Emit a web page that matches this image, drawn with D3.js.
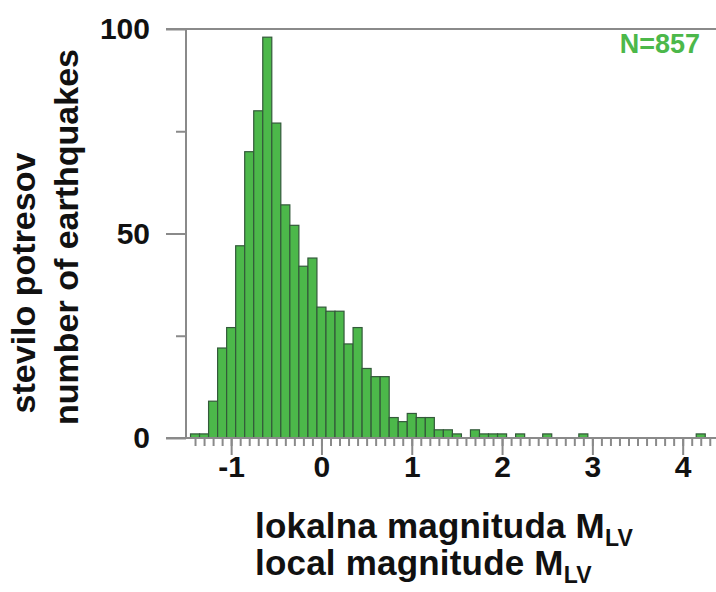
<!DOCTYPE html>
<html>
<head>
<meta charset="utf-8">
<script src="https://cdn.jsdelivr.net/npm/d3@7/dist/d3.min.js"></script>
<style>
  html, body { margin: 0; padding: 0; background: #ffffff; }
  svg text { font-family: "Liberation Sans", Arial, Helvetica, sans-serif; font-weight: bold; }
</style>
</head>
<body>
<svg id="chart" width="716" height="592"></svg>
<script>
// Bin centres of the local magnitude histogram (bin width 0.1)
const magnitudes = [-1.4, -1.3, -1.2, -1.1, -1.0, -0.9, -0.8, -0.7, -0.6, -0.5,
                    -0.4, -0.3, -0.2, -0.1, 0.0, 0.1, 0.2, 0.3, 0.4, 0.5,
                    0.6, 0.7, 0.8, 0.9, 1.0, 1.1, 1.2, 1.3, 1.4, 1.5,
                    1.6, 1.7, 1.8, 1.9, 2.0, 2.1, 2.2, 2.5, 2.9, 4.2];
// Number of earthquakes per bin (total 857)
const counts = [1, 1, 9, 22, 27, 47, 70, 80, 98, 77,
                57, 52, 42, 44, 32, 31, 31, 23, 27, 17,
                15, 15, 5, 4, 6, 5, 5, 2, 2, 1,
                0, 2, 1, 1, 1, 0, 1, 1, 1, 1];
const binWidth = 0.1;
const xMajorTicks = [-1, 0, 1, 2, 3, 4];
const yMajorTicks = [0, 50, 100];
const yMinorTicks = [25, 75];
const totalLabel = "N=857";
const yTitleLines = ["stevilo potresov", "number of earthquakes"];
const xTitleLines = [["lokalna magnituda M", "LV"], ["local magnitude M", "LV"]];

const svg = d3.select("#chart");
const W = 716;
const axisColor = "#8a8a8a";
const barFill = "#4cb84a";
const barStroke = "#33593a";

const x = d3.scaleLinear().domain([-1.5, 4.4]).range([186, 718.8]);
const y = d3.scaleLinear().domain([0, 100]).range([438, 29]);

// Bars
svg.append("g").selectAll("rect")
  .data(magnitudes.map((m, i) => ({ m, c: counts[i] })).filter(d => d.c > 0))
  .join("rect")
  .attr("x", d => x(d.m - binWidth / 2))
  .attr("width", d => x(d.m + binWidth / 2) - x(d.m - binWidth / 2))
  .attr("y", d => y(d.c))
  .attr("height", d => y(0) - y(d.c))
  .attr("fill", barFill)
  .attr("stroke", barStroke)
  .attr("stroke-width", 1.2);

// Minor x ticks every 0.1
const minorX = d3.range(-14, 44).map(k => k / 10);
const gxMinor = svg.append("g").attr("transform", `translate(0,${y(0)})`)
  .call(d3.axisBottom(x).tickValues(minorX).tickSize(8).tickFormat(""));
// Major x ticks with labels
const gxMajor = svg.append("g").attr("transform", `translate(0,${y(0)})`)
  .call(d3.axisBottom(x).tickValues(xMajorTicks).tickSize(17).tickPadding(1)
    .tickFormat(d => d < 0 ? "-" + Math.abs(d) : String(d)));

// y axis
const gyMinor = svg.append("g").attr("transform", `translate(${x(-1.5)},0)`)
  .call(d3.axisLeft(y).tickValues(yMinorTicks).tickSize(10).tickFormat(""));
const gyMajor = svg.append("g").attr("transform", `translate(${x(-1.5)},0)`)
  .call(d3.axisLeft(y).tickValues(yMajorTicks).tickSize(20).tickPadding(16));

[gxMinor, gxMajor, gyMinor, gyMajor].forEach(g => {
  g.select(".domain").remove();
  g.selectAll("line").attr("stroke", axisColor).attr("stroke-width", 2);
  g.selectAll("text").attr("fill", "#111").attr("font-size", 30)
    .attr("font-family", "'Liberation Sans', Arial, sans-serif").attr("font-weight", "bold");
});

// Axis lines: bottom baseline and top frame line
svg.append("line").attr("x1", x(-1.5) - 20).attr("x2", W).attr("y1", y(0)).attr("y2", y(0))
  .attr("stroke", axisColor).attr("stroke-width", 2);
svg.append("line").attr("x1", x(-1.5) - 20).attr("x2", W).attr("y1", y(100)).attr("y2", y(100))
  .attr("stroke", axisColor).attr("stroke-width", 2);
svg.append("line").attr("x1", x(-1.5)).attr("x2", x(-1.5)).attr("y1", y(100)).attr("y2", y(0))
  .attr("stroke", axisColor).attr("stroke-width", 2);

// Sample size label
svg.append("text").attr("x", 700).attr("y", 53).attr("text-anchor", "end")
  .attr("font-size", 27).attr("fill", "#4cb84a").text(totalLabel);

// y axis title (two rotated lines)
const yTitlePos = [[23, 283], [66, 237]];
yTitleLines.forEach((t, i) => {
  svg.append("text")
    .attr("transform", `translate(${yTitlePos[i][0] + 12},${yTitlePos[i][1]}) rotate(-90)`)
    .attr("text-anchor", "middle").attr("font-size", 34).attr("fill", "#111").text(t);
});

// x axis title with subscript
const xTitleBase = [538, 575];
xTitleLines.forEach((parts, i) => {
  const t = svg.append("text").attr("x", 255).attr("y", xTitleBase[i])
    .attr("font-size", 35).attr("letter-spacing", 0.2).attr("fill", "#111");
  t.append("tspan").text(parts[0]);
  t.append("tspan").attr("font-size", 23).attr("dy", 8).text(parts[1]);
});
</script>
</body>
</html>
